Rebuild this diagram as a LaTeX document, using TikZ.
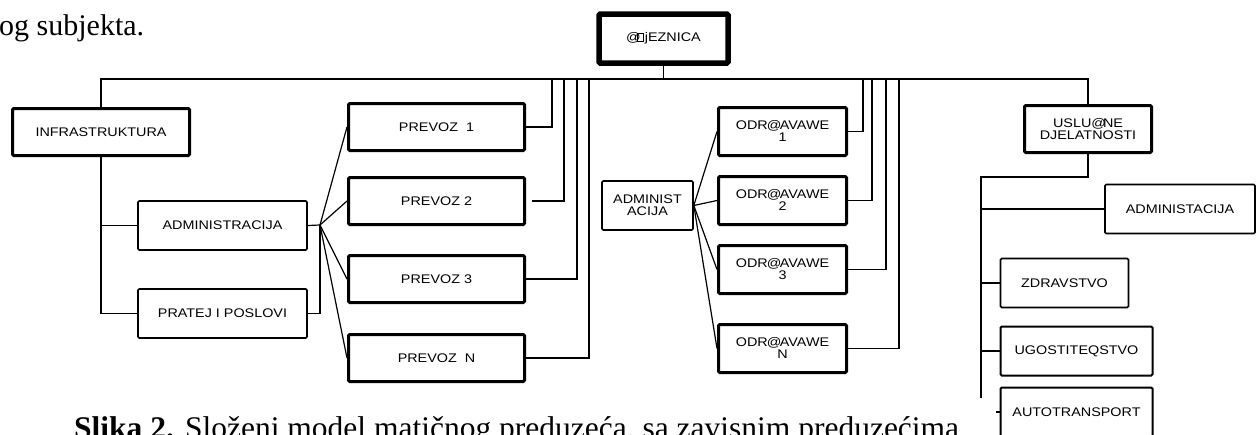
\documentclass[tikz,border=0pt]{standalone}
\usepackage{fontspec}
\setmainfont{Liberation Serif}
\newfontfamily\boxfont[FakeStretch=1.15]{Liberation Sans}
\newfontfamily\capfont{Liberation Serif}
% small empty rectangle standing for an undefined glyph
\newcommand\nodefglyph{\leavevmode\hbox{\vrule width0.6pt height8.6pt\vbox to 8.6pt{\hrule width5.4pt height0.6pt\vfill\hrule width5.4pt height0.6pt}\vrule width0.6pt height8.6pt}}
\tikzset{
  lbl/.style={font=\boxfont\fontsize{12.5}{12}\selectfont, align=center, inner sep=0pt},
  orgbox/.style={draw, rounded corners=1.2pt, inner sep=0pt, lbl},
  heavybox/.style={orgbox, line width=5.5pt},
  thickbox/.style={orgbox, line width=3pt},
  midbox/.style={orgbox, line width=2pt},
  thinbox/.style={orgbox, line width=1.6pt},
  wire/.style={line width=1.2pt},
  prose/.style={anchor=base west, inner sep=0pt}
}
\begin{document}
\begin{tikzpicture}[x=1pt,y=-1pt]
\useasboundingbox (0,0) rectangle (1257,434);
\clip (0,0) rectangle (1257,434);

% running text around the chart
\node[prose, font=\capfont\fontsize{30}{34}\selectfont] (prev) at (-1,35) {og subjekta.};
\node[prose, font=\capfont\fontsize{31.5}{36}\selectfont] (cap) at (74,438) {\textbf{Slika 2.}\hspace{0.35em}Složeni model matičnog preduzeća, sa zavisnim preduzećima};

% top of the hierarchy
\node[heavybox, minimum width=129pt, minimum height=49pt] (zel) at (663.5,38.5) {@\kern-4pt\nodefglyph\kern1.5pt jEZNICA};

% infrastructure branch
\node[thickbox, minimum width=177pt, minimum height=47pt] (infra) at (101,132) {INFRASTRUKTURA};
\node[thinbox, minimum width=169pt, minimum height=49pt] (adm1) at (222.5,225.5) {ADMINISTRACIJA};
\node[thinbox, minimum width=169pt, minimum height=49pt] (prat) at (222.5,313.5) {PRATEJ I POSLOVI};

% transport units
\node[thickbox, minimum width=176pt, minimum height=47pt] (p1) at (436.5,127) {PREVOZ \ 1};
\node[thickbox, minimum width=176pt, minimum height=47pt] (p2) at (436.5,201) {PREVOZ 2};
\node[thickbox, minimum width=176pt, minimum height=47pt] (p3) at (436.5,279) {PREVOZ 3};
\node[thickbox, minimum width=176pt, minimum height=47pt] (pn) at (436.5,358) {PREVOZ \ N};

% maintenance branch
\node[thinbox, minimum width=91pt, minimum height=49pt] (adm2) at (647.5,205.5) {ADMINIST\\ACIJA};
\node[thickbox, minimum width=128pt, minimum height=48pt] (o1) at (782.5,131.5) {};
\node[thickbox, minimum width=128pt, minimum height=48pt] (o2) at (782.5,200.5) {};
\node[thickbox, minimum width=128pt, minimum height=48pt] (o3) at (782.5,269.5) {};
\node[thickbox, minimum width=128pt, minimum height=48pt] (on) at (782.5,348.5) {};
\node[lbl, anchor=north] (o1t) at ([yshift=-14pt]o1.north) {ODR\kern-1pt@\kern-1.5pt AVAWE\\1};
\node[lbl, anchor=north] (o2t) at ([yshift=-14pt]o2.north) {ODR\kern-1pt@\kern-1.5pt AVAWE\\2};
\node[lbl, anchor=north] (o3t) at ([yshift=-14pt]o3.north) {ODR\kern-1pt@\kern-1.5pt AVAWE\\3};
\node[lbl, anchor=north] (ont) at ([yshift=-14pt]on.north) {ODR\kern-1pt@\kern-1.5pt AVAWE\\N};

% services branch
\node[thickbox, minimum width=127pt, minimum height=47pt] (usl) at (1088,129) {USLU@\kern-3pt NE\\DJELATNOSTI};
\node[thinbox, minimum width=150pt, minimum height=49pt] (adm3) at (1180,209) {ADMINISTACIJA};
\node[thinbox, minimum width=128pt, minimum height=49pt] (zdr) at (1064.5,283) {ZDRAVSTVO};
\node[midbox, minimum width=152pt, minimum height=49pt] (ugo) at (1076.5,351) {UGOSTITEQSTVO};
\node[midbox, minimum width=152pt, minimum height=49pt] (auto) at (1076.5,412) {AUTOTRANSPORT};

% main bus
\coordinate (busL) at (101,79);
\coordinate (busR) at (1088,79);
\draw[wire] (infra.north) -- (busL) -- (busR) -- (usl.north);
\draw[wire] (zel.south) -- (zel.south |- busL);

% infrastructure tree
\draw[wire] (infra.south) |- (prat.west);
\draw[wire] (infra.south |- adm1.west) -- (adm1.west);
\coordinate (fanA) at (320,225);
\draw[wire] (adm1.east) -- (fanA);
\draw[wire] (prat.east) -| (fanA);
\foreach \p in {p1,p2,p3,pn} \draw[wire] (fanA) -- (\p.west);

% transport units up to the bus
\coordinate (b1) at (552,79);
\coordinate (b2) at (564,79);
\coordinate (b3) at (577,79);
\coordinate (b4) at (589,79);
\draw[wire] (p1.east) -| (b1);
\draw[wire] ([xshift=6pt]p2.east) -| (b2);
\draw[wire] (p3.east) -| (b3);
\draw[wire] (pn.east) -| (b4);

% maintenance fan and links to the bus
\foreach \o in {o1,o2,o3,on} \draw[wire] (adm2.east) -- (\o.west);
\coordinate (c1) at (863,79);
\coordinate (c2) at (872,79);
\coordinate (c3) at (886,79);
\coordinate (c4) at (899,79);
\draw[wire] (o1.east) -| (c1);
\draw[wire] (o2.east) -| (c2);
\draw[wire] (o3.east) -| (c3);
\draw[wire] (on.east) -| (c4);

% services tree
\coordinate (uj) at (981,177);
\coordinate (uend) at (981,398);
\draw[wire] (usl.south) |- (uj) -- (uend);
\draw[wire] (uj |- adm3.west) -- (adm3.west);
\draw[wire] (uj |- zdr.west) -- (zdr.west);
\draw[wire] (uj |- ugo.west) -- (ugo.west);
\draw[wire] ([xshift=-4pt]auto.west) -- (auto.west);
\end{tikzpicture}
\end{document}
